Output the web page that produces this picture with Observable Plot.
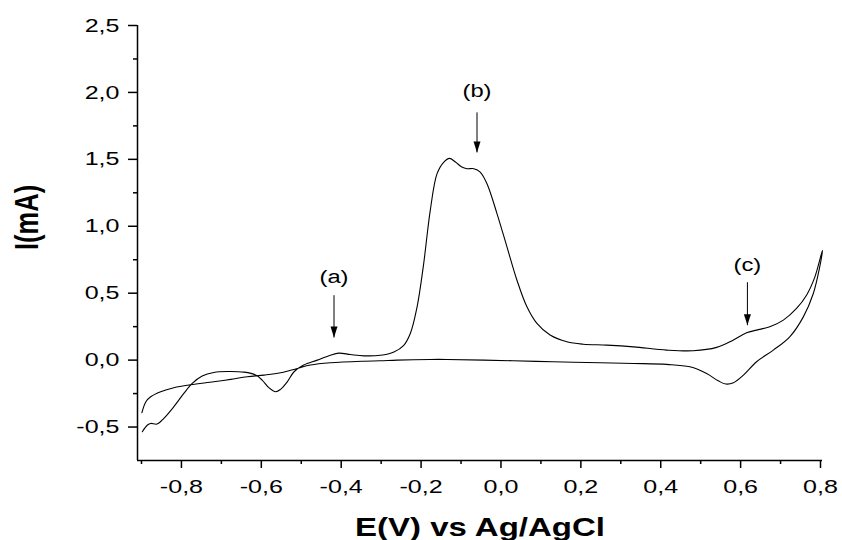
<!DOCTYPE html>
<html><head><meta charset="utf-8">
<script src="https://cdn.jsdelivr.net/npm/d3@7"></script>
<script src="https://cdn.jsdelivr.net/npm/@observablehq/plot@0.6"></script>
<style>body{margin:0;background:#fff}</style>
</head><body><div id="chart"></div>
<script>
// Forward (anodic) scan, -0.9 V -> 0.8 V
const forwardE = [-0.898,-0.885,-0.877,-0.861,-0.844,-0.819,-0.794,-0.773,-0.748,-0.719,-0.685,-0.643,-0.614,-0.598,-0.581,-0.564,-0.552,-0.535,-0.518,-0.494,-0.460,-0.427,-0.406,-0.377,-0.343,-0.302,-0.268,-0.244,-0.227,-0.210,-0.194,-0.177,-0.160,-0.143,-0.129,-0.114,-0.098,-0.085,-0.068,-0.052,-0.035,-0.010,0.015,0.040,0.065,0.090,0.123,0.165,0.206,0.265,0.332,0.415,0.481,0.540,0.581,0.615,0.640,0.673,0.707,0.740,0.765,0.786,0.805];
const forwardI = [-0.535,-0.485,-0.473,-0.478,-0.435,-0.348,-0.249,-0.174,-0.119,-0.092,-0.085,-0.090,-0.112,-0.149,-0.206,-0.236,-0.219,-0.162,-0.087,-0.037,0.000,0.037,0.052,0.042,0.032,0.036,0.061,0.108,0.199,0.398,0.710,1.119,1.393,1.480,1.507,1.480,1.443,1.430,1.430,1.405,1.318,1.095,0.846,0.597,0.398,0.274,0.187,0.137,0.119,0.112,0.099,0.075,0.070,0.095,0.149,0.204,0.224,0.249,0.299,0.386,0.485,0.622,0.821];
// Reverse scan, 0.8 V -> -0.9 V
const reverseE = [0.798,0.782,0.757,0.723,0.682,0.640,0.607,0.582,0.563,0.544,0.515,0.473,0.415,0.332,0.248,0.130,0.030,-0.135,-0.177,-0.260,-0.302,-0.343,-0.427,-0.477,-0.510,-0.552,-0.593,-0.635,-0.677,-0.719,-0.777,-0.819,-0.852,-0.877,-0.889,-0.899];
const reverseI = [0.696,0.498,0.323,0.174,0.075,-0.012,-0.112,-0.169,-0.179,-0.155,-0.100,-0.050,-0.032,-0.025,-0.020,-0.012,-0.005,0.005,0.005,0.000,-0.005,-0.008,-0.020,-0.037,-0.062,-0.095,-0.112,-0.124,-0.144,-0.162,-0.184,-0.206,-0.236,-0.274,-0.311,-0.393];

const xMajorTicks = [-0.8,-0.6,-0.4,-0.2,0,0.2,0.4,0.6,0.8];
const xMinorTicks = [-0.9,-0.7,-0.5,-0.3,-0.1,0.1,0.3,0.5,0.7];
const yMajorTicks = [-0.5,0,0.5,1,1.5,2,2.5];
const yMinorTicks = [-0.25,0.25,0.75,1.25,1.75,2.25];

const peakLabels = ["(a)","(b)","(c)"];
const peakE = [-0.418,-0.06,0.617];
const arrowTopI = [0.485,1.851,0.582];
const arrowTipI = [0.169,1.552,0.261];
const labelI = [0.619,2.007,0.709];

const xTitle = "E(V) vs Ag/AgCl";
const yTitle = "I(mA)";

const curve = forwardE.map((e,i)=>({E:e, I:forwardI[i]}))
  .concat(reverseE.map((e,i)=>({E:e, I:reverseI[i]})));
const notes = peakLabels.map((t,i)=>({t, E:peakE[i], top:arrowTopI[i], tip:arrowTipI[i], ly:labelI[i]}));
const fmt = d => d.toFixed(1).replace(".", ",");

const downHead = {draw(ctx){ ctx.moveTo(-3.5,-11); ctx.lineTo(3.5,-11); ctx.lineTo(0,0); ctx.closePath(); }};

const chart = Plot.plot({
  width: 842, height: 540,
  marginLeft: 137, marginRight: 20, marginTop: 25, marginBottom: 80,
  style: {fontFamily: "'Liberation Sans', Arial, sans-serif", background: "white", color: "black"},
  x: {domain: [-0.91, 0.805], label: null},
  y: {domain: [-0.75, 2.5], label: null},
  marks: [
    Plot.axisX(xMinorTicks, {tickSize: 4, tickFormat: () => "", strokeWidth: 1.5, color: "black", label: null}),
    Plot.axisX(xMajorTicks, {tickSize: 8, tickPadding: 11, tickFormat: fmt, fontSize: 19, strokeWidth: 1.5, color: "black", label: null}),
    Plot.axisY(yMinorTicks, {tickSize: 4, tickFormat: () => "", strokeWidth: 1.5, color: "black", label: null}),
    Plot.axisY(yMajorTicks, {tickSize: 9, tickPadding: 9, tickFormat: fmt, fontSize: 19, strokeWidth: 1.5, color: "black", label: null}),
    Plot.ruleX([-0.91], {stroke: "black", strokeWidth: 1.5}),
    Plot.ruleY([-0.75], {stroke: "black", strokeWidth: 1.5}),
    Plot.line(curve, {x: "E", y: "I", stroke: "black", strokeWidth: 1.1, curve: "catmull-rom"}),
    Plot.link(notes, {x1: "E", x2: "E", y1: "top", y2: "tip", stroke: "black", strokeWidth: 1}),
    Plot.dot(notes, {x: "E", y: "tip", symbol: downHead, fill: "black", stroke: "none", r: 4}),
    Plot.text(notes, {x: "E", y: "ly", text: "t", fontSize: 18, fill: "black"}),
    Plot.text([xTitle], {frameAnchor: "bottom", lineAnchor: "bottom", dy: 75, text: d => d, fontSize: 25, fontWeight: "bold", fill: "black"}),
    Plot.text([yTitle], {frameAnchor: "left", lineAnchor: "bottom", rotate: -90, dx: -100, dy: 7, text: d => d, fontSize: 25.5, fontWeight: "bold", fill: "black"})
  ]
});
document.getElementById("chart").appendChild(chart);

// horizontal stretch of lettering, as in the reference
const S = 1.32;
chart.querySelectorAll("text").forEach(t => {
  const tr = t.getAttribute("transform");
  if (tr) {
    if (/rotate/.test(tr)) t.setAttribute("transform", tr.replace(/rotate/, `scale(${S},1) rotate`));
    else t.setAttribute("transform", tr + ` scale(${S},1)`);
  } else {
    const x = +t.getAttribute("x") || 0, y = +t.getAttribute("y") || 0;
    t.removeAttribute("x"); t.removeAttribute("y");
    t.setAttribute("transform", `translate(${x},${y}) scale(${S},1)`);
  }
});
</script>
</body></html>
